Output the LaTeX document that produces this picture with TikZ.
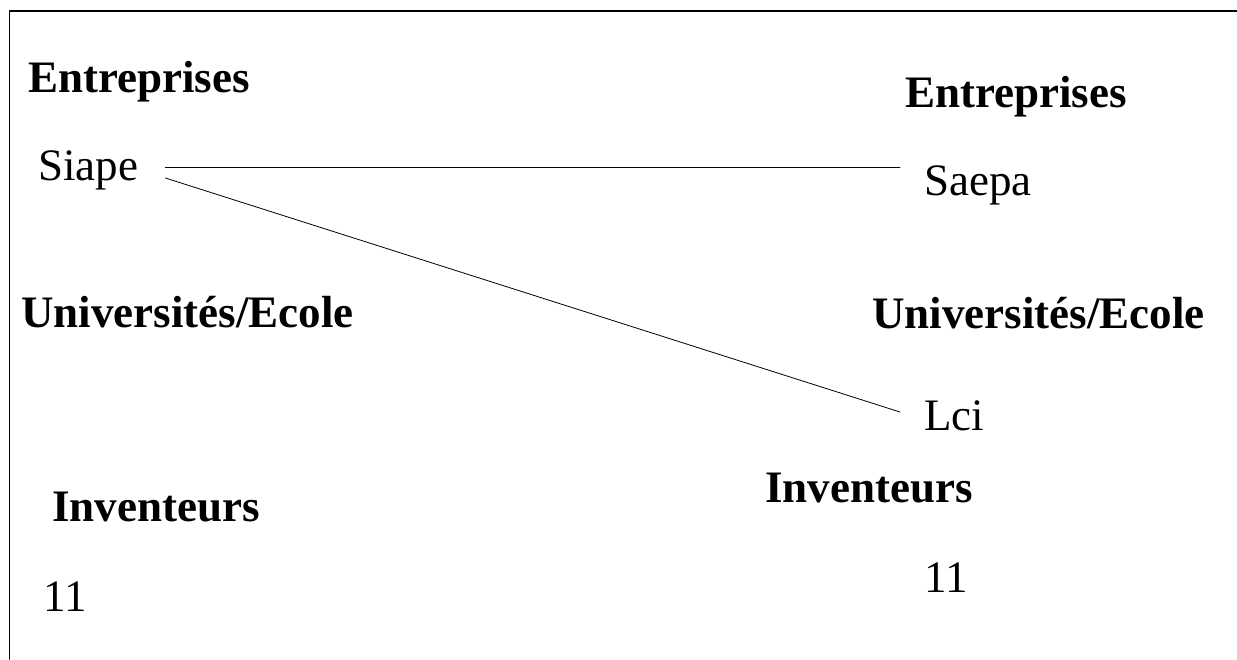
\documentclass[tikz,border=0pt]{standalone}
\usepackage{fontspec}
\setmainfont{Liberation Serif}
\usetikzlibrary{positioning}

\begin{document}
\begin{tikzpicture}[line cap=round,line join=round,x=1pt,y=-1pt,
	titre/.style={anchor=base west,inner sep=0pt,font=\fontsize{45}{50}\selectfont\bfseries},
	nom/.style={anchor=base west,inner sep=0pt,font=\fontsize{45}{50}\selectfont}]
	\useasboundingbox (0,0) rectangle (1237,659);
	% cadre
	\draw [line width=1.5pt] (9.5,659) -- (9.5,11) -- (1237,11);
	% colonne gauche
	\node[titre] (entg) at (28,92) {Entreprises};
	\node[nom] (siape) at (38,180) {Siape};
	\node[titre] (univg) at (21,327) {Universités/Ecole};
	\node[titre] (invg) at (52,521) {Inventeurs};
	\node[nom] (nbg) at (43,611) {11};
	% colonne droite
	\node[titre] (entd) at (905,107) {Entreprises};
	\node[nom] (saepa) at (924,195) {Saepa};
	\node[titre] (univd) at (872,328) {Universités/Ecole};
	\node[nom] (lci) at (924,430) {Lci};
	\node[titre] (invd) at (765,502) {Inventeurs};
	\node[nom] (nbd) at (924,592) {11};
	% liens
	\draw [line width=0.8pt] ([shift={(27,-13)}]siape.base east) -- ([shift={(-24,-28)}]saepa.base west);
	\draw [line width=0.8pt] ([shift={(27,-2)}]siape.base east) -- ([shift={(-24,-18)}]lci.base west);
\end{tikzpicture}
\end{document}
